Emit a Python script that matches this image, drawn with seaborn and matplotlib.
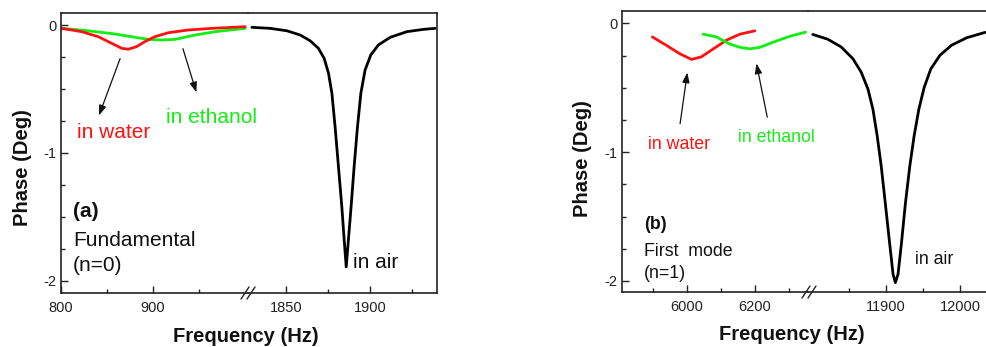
import matplotlib
matplotlib.use("Agg")
import matplotlib.pyplot as plt
from matplotlib.lines import Line2D
from matplotlib.ticker import MultipleLocator, FixedLocator
import seaborn as sns
import pandas as pd

# ---------------- data ----------------
# Panel (a): fundamental mode (n=0)
a_water_f = [800.8, 822.5, 840.5, 855, 866, 873, 882, 891, 902, 916.6, 938, 964, 1000]
a_water_p = [-0.026, -0.052, -0.091, -0.143, -0.182, -0.189, -0.169, -0.13, -0.091, -0.06, -0.039, -0.026, -0.013]
a_eth_f = [800.8, 829.7, 858.7, 880.4, 894.9, 909.5, 923.9, 945.7, 967.4, 1000]
a_eth_p = [-0.026, -0.045, -0.07, -0.096, -0.112, -0.117, -0.112, -0.078, -0.052, -0.026]
a_air_f = [1829.8, 1840.7, 1850.6, 1858.5, 1864.4, 1869.3, 1872.7, 1875.3, 1877.3, 1879.2,
           1881.2, 1883.2, 1884.6, 1885.8, 1887.1, 1888.7, 1890.5, 1892.5, 1894.5, 1897.0,
           1900.4, 1904.9, 1911.9, 1921.8, 1931.6, 1938.6]
a_air_p = [-0.018, -0.026, -0.045, -0.078, -0.123, -0.182, -0.26, -0.377, -0.533, -0.794,
           -1.107, -1.42, -1.68, -1.89, -1.68, -1.42, -1.107, -0.794, -0.533, -0.352,
           -0.234, -0.156, -0.096, -0.052, -0.034, -0.026]

# Panel (b): first mode (n=1)
b_water_f = [5899, 5940, 5979, 6014, 6043, 6077, 6117, 6156, 6200]
b_water_p = [-0.105, -0.17, -0.235, -0.28, -0.26, -0.20, -0.13, -0.084, -0.058]
b_eth_f = [6048, 6087, 6126, 6156, 6185, 6215, 6254, 6303, 6349]
b_eth_p = [-0.084, -0.105, -0.16, -0.186, -0.198, -0.186, -0.146, -0.10, -0.068]
b_air_f = [11801.4, 11821.6, 11839.6, 11855.4, 11866.6, 11875.7, 11882.4, 11888.2, 11893.6,
           11899.1, 11905.0, 11909.5, 11912.6, 11916.2, 11920.7, 11926.1, 11932.0, 11937.8,
           11944.2, 11951.4, 11960.4, 11972.6, 11988.2, 12008.5, 12033.4]
b_air_p = [-0.086, -0.123, -0.183, -0.274, -0.379, -0.51, -0.667, -0.876, -1.11,
           -1.399, -1.713, -1.948, -2.013, -1.948, -1.713, -1.399, -1.11, -0.876,
           -0.667, -0.497, -0.353, -0.248, -0.17, -0.112, -0.07]

# ---------------- style ----------------
sns.set_theme(style="ticks")
plt.rcParams['font.family'] = ['Liberation Sans', 'DejaVu Sans']
plt.rcParams['axes.unicode_minus'] = False

RED = "#ff1111"
GREEN = "#11ee11"
BLACK = "#000000"

W, H = 986, 347
fig = plt.figure(figsize=(W / 100, H / 100), dpi=100)


def box(l, r, t, b):
    return [l / W, 1 - b / H, (r - l) / W, (b - t) / H]


def style_pair(axl, axr, ylim, lticks, lminor, rticks, rminor):
    for ax in (axl, axr):
        ax.set_ylim(*ylim)
        ax.set_xlabel("")
        ax.set_ylabel("")
        for s in ax.spines.values():
            s.set_linewidth(1.2)
            s.set_color("#222222")
        ax.tick_params(axis='both', which='both', direction='in', top=False, right=False,
                       labelsize=10.5, colors="#222222", labelcolor="#222222")
        ax.tick_params(axis='both', which='major', length=5, width=1.0)
        ax.tick_params(axis='both', which='minor', length=3, width=1.0)
        ax.tick_params(axis='x', which='both', pad=6)
        ax.tick_params(axis='y', which='both', pad=3)
        ax.set_facecolor("none")
    axl.spines['right'].set_visible(False)
    axr.spines['left'].set_visible(False)
    axl.yaxis.set_major_locator(FixedLocator([-2, -1, 0]))
    axl.yaxis.set_minor_locator(MultipleLocator(0.25))
    axl.set_yticklabels(["-2", "-1", "0"])
    axr.tick_params(axis='y', which='both', left=False, labelleft=False)
    axl.xaxis.set_major_locator(FixedLocator(lticks))
    axl.xaxis.set_minor_locator(FixedLocator(lminor))
    axr.xaxis.set_major_locator(FixedLocator(rticks))
    axr.xaxis.set_minor_locator(FixedLocator(rminor))
    axl.set_xticklabels([str(t) for t in lticks])
    axr.set_xticklabels([str(t) for t in rticks])


def curve(ax, f, p, color):
    df = pd.DataFrame({"f": f, "p": p})
    sns.lineplot(data=df, x="f", y="p", ax=ax, color=color, lw=2.0,
                 estimator=None, sort=False, solid_joinstyle="round",
                 solid_capstyle="round")


def break_marks(xc, yc):
    for dx in (-3, 3):
        fig.add_artist(Line2D([(xc + dx - 4) / W, (xc + dx + 4) / W],
                              [1 - (yc + 6) / H, 1 - (yc - 6) / H],
                              color="#222222", lw=1.0, transform=fig.transFigure))


# ---------------- panel (a) ----------------
a1 = fig.add_axes(box(61, 248, 13, 293))
a2 = fig.add_axes(box(248, 437, 13, 293))
curve(a1, a_eth_f, a_eth_p, GREEN)
curve(a1, a_water_f, a_water_p, RED)
curve(a2, a_air_f, a_air_p, BLACK)
a1.set_xlim(800, 1003)
a2.set_xlim(1827.5, 1939.7)
style_pair(a1, a2, (-2.094, 0.094), [800, 900], [850, 950], [1850, 1900], [1875, 1925])
break_marks(248, 293)

fs_a = 15
a1.text(817.4, -0.885, "in water", color=RED, fontsize=fs_a)
a1.text(914, -0.763, "in ethanol", color=GREEN, fontsize=fs_a)
a1.text(813, -1.50, "(a)", color="#111111", fontsize=fs_a, fontweight="bold")
a1.text(813, -1.724, "Fundamental", color="#111111", fontsize=fs_a)
a1.text(813, -1.92, "(n=0)", color="#111111", fontsize=fs_a)
a2.text(1889.7, -1.896, "in air", color="#111111", fontsize=fs_a)
arrow_kw = dict(arrowstyle="-|>,head_length=0.5,head_width=0.18", color="#111111", lw=0.9)
a1.annotate("", xy=(840.2, -0.727), xytext=(865.2, -0.242), arrowprops=arrow_kw)
a1.annotate("", xy=(947.8, -0.547), xytext=(931.5, -0.164), arrowprops=arrow_kw)

fig.text(23 / W, 1 - 168 / H, "Phase (Deg)", rotation=90, ha="center", va="center",
         fontsize=14.5, fontweight="bold", color="#111111")
fig.text(246 / W, 1 - 336 / H, "Frequency (Hz)", ha="center", va="center",
         fontsize=14.5, fontweight="bold", color="#111111")

# ---------------- panel (b) ----------------
b1 = fig.add_axes(box(622, 808, 11, 292))
b2 = fig.add_axes(box(808, 990, 11, 292))
curve(b1, b_water_f, b_water_p, RED)
curve(b1, b_eth_f, b_eth_p, GREEN)
curve(b2, b_air_f, b_air_p, BLACK)
b1.set_xlim(5810, 6356)
b2.set_xlim(11795, 12040)
style_pair(b1, b2, (-2.086, 0.096), [6000, 6200], [5900, 6100, 6300], [11900, 12000], [11850, 11950])
break_marks(809, 292)

fs_b = 12.8
b1.text(5885, -0.976, "in water", color=RED, fontsize=fs_b)
b1.text(6150, -0.92, "in ethanol", color=GREEN, fontsize=fs_b)
b1.text(5873.5, -1.595, "(b)", color="#111111", fontsize=fs_b, fontweight="bold")
b1.text(5873.5, -1.81, "First  mode", color="#111111", fontsize=fs_b)
b1.text(5873.5, -1.975, "(n=1)", color="#111111", fontsize=fs_b)
b2.text(11939.6, -1.87, "in air", color="#111111", fontsize=fs_b)
b1.annotate("", xy=(6002.9, -0.36), xytext=(5979.4, -0.80), arrowprops=arrow_kw)
b1.annotate("", xy=(6203, -0.29), xytext=(6238, -0.75), arrowprops=arrow_kw)

fig.text(582 / W, 1 - 159 / H, "Phase (Deg)", rotation=90, ha="center", va="center",
         fontsize=14.5, fontweight="bold", color="#111111")
fig.text(791.7 / W, 1 - 335 / H, "Frequency (Hz)", ha="center", va="center",
         fontsize=14.5, fontweight="bold", color="#111111")

fig.savefig("out.png", dpi=100)
